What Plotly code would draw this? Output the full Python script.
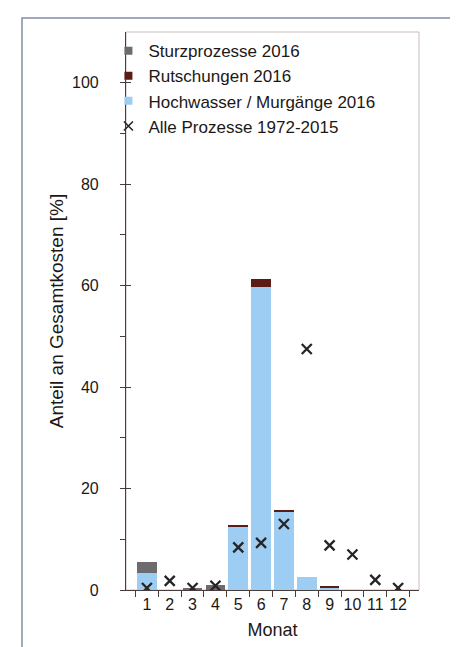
import plotly.graph_objects as go

months = ["1", "2", "3", "4", "5", "6", "7", "8", "9", "10", "11", "12"]
hochwasser_2016 = [3.3, 0, 0, 0, 12.5, 59.8, 15.3, 2.5, 0.5, 0, 0, 0]
rutschungen_2016 = [0, 0, 0, 0, 0.2, 1.6, 0.4, 0, 0.3, 0, 0, 0]
sturz_2016 = [2.3, 0, 0.4, 1.0, 0, 0, 0, 0, 0, 0, 0, 0]
alle_1972_2015 = [0.4, 1.8, 0.4, 0.85, 8.4, 9.3, 13.0, 47.5, 8.8, 7.0, 2.0, 0.4]

names = ["Sturzprozesse 2016", "Rutschungen 2016", "Hochwasser / Murgänge 2016",
         "Alle Prozesse 1972-2015"]
colors = ["#6c6c6e", "#5b1c16", "#9dcdf3", "#262424"]

FONT = "Liberation Sans, Arial, sans-serif"
TXT = "#1c1815"
AX = "#4a3c3a"

fig = go.Figure()
fig.add_trace(go.Bar(x=months, y=hochwasser_2016, name=names[2], showlegend=False,
                     marker=dict(color=colors[2], line=dict(width=0))))
fig.add_trace(go.Bar(x=months, y=rutschungen_2016, name=names[1], showlegend=False,
                     marker=dict(color=colors[1], line=dict(width=0))))
fig.add_trace(go.Bar(x=months, y=sturz_2016, name=names[0], showlegend=False,
                     marker=dict(color=colors[0], line=dict(width=0))))
fig.add_trace(go.Scatter(x=months, y=alle_1972_2015, name=names[3],
                         mode="markers", showlegend=False,
                         marker=dict(symbol="x-thin", size=10, color=colors[3],
                                     line=dict(width=2.3, color=colors[3]))))

# legend entries (small square swatches like the original)
for i in range(3):
    fig.add_trace(go.Scatter(x=[None], y=[None], name=names[i], mode="markers",
                             yaxis="y2", legendrank=i + 1,
                             marker=dict(symbol="square", size=8, color=colors[i])))
fig.add_trace(go.Scatter(x=[None], y=[None], name=names[3], mode="markers",
                         yaxis="y2", legendrank=4,
                         marker=dict(symbol="x-thin", size=9, color=colors[3],
                                     line=dict(width=1.6, color=colors[3]))))

fig.update_layout(
    width=458, height=647,
    margin=dict(l=118, r=47, t=24, b=65),
    paper_bgcolor="white", plot_bgcolor="white",
    barmode="stack", bargap=0.14,
    font=dict(family=FONT, size=16, color=TXT),
    showlegend=True,
    legend=dict(x=-0.06, y=0.998, xanchor="left", yanchor="top",
                bgcolor="rgba(0,0,0,0)", traceorder="normal",
                font=dict(size=17, color=TXT), itemwidth=30,
                tracegroupgap=0),
    xaxis=dict(type="category", showgrid=False, zeroline=False,
               showline=True, linecolor=AX, linewidth=1.2,
               ticks="outside", ticklen=6, tickcolor=AX, tickwidth=1,
               tickson="boundaries", tickangle=0,
               tickfont=dict(size=16, color=TXT),
               title=dict(text="Monat", font=dict(size=18, color=TXT), standoff=11)),
    yaxis=dict(range=[0, 110], tickvals=[0, 20, 40, 60, 80, 100],
               showgrid=False, zeroline=False,
               showline=True, linecolor=AX, linewidth=1.2,
               ticks="outside", ticklen=5, tickcolor=AX, tickwidth=1,
               ticklabelstandoff=18,
               minor=dict(tickvals=[10, 30, 50, 70, 90], ticks="outside", ticklen=5,
                          tickcolor=AX, tickwidth=1),
               tickfont=dict(size=16, color=TXT),
               title=dict(text="Anteil an Gesamtkosten [%]", font=dict(size=19, color=TXT),
                          standoff=3)),
    yaxis2=dict(overlaying="y", side="left", range=[0, 110],
                tickvals=[0, 20, 40, 60, 80, 100], showticklabels=False,
                ticks="inside", ticklen=5, tickcolor=AX, tickwidth=1,
                showgrid=False, zeroline=False, showline=False),
    shapes=[
        dict(type="rect", xref="paper", yref="paper", x0=0, x1=1, y0=0, y1=1,
             line=dict(color="#c9bcbc", width=1), layer="below"),
        dict(type="rect", xref="paper", yref="paper", x0=-0.355, x1=1.143,
             y0=-0.13, y1=1.025, line=dict(color="#8090a8", width=1.5), layer="below"),
    ],
)

fig.write_html("out.html")
